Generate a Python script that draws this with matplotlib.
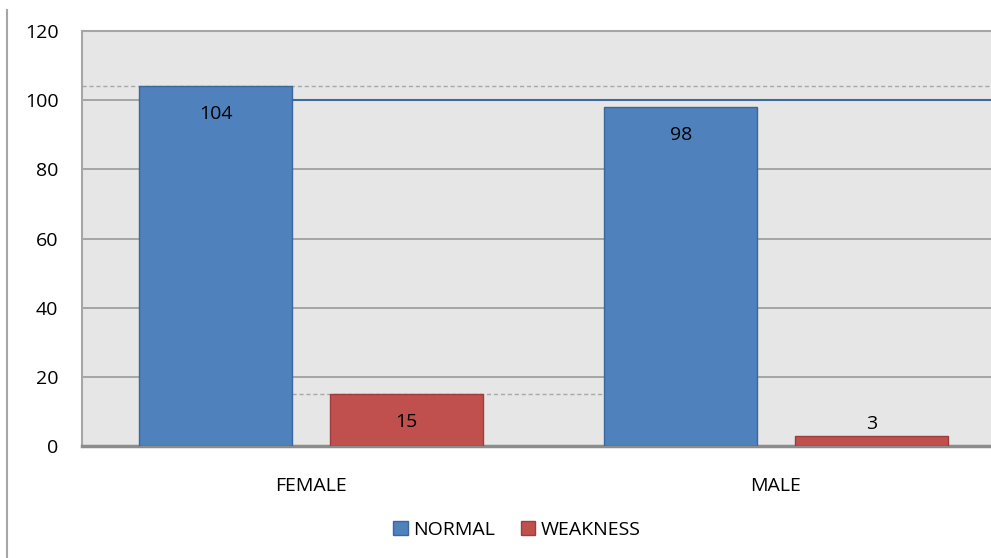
import matplotlib
matplotlib.use("Agg")
import matplotlib.pyplot as plt
from matplotlib.lines import Line2D
from matplotlib.patches import Patch
import numpy as np

# dados do gráfico
categorias = ["FEMALE", "MALE"]
normal = [104, 98]
weakness = [15, 3]
y_ticks = [0, 20, 40, 60, 80, 100, 120]

AZUL = "#4f81bd"
VERMELHO = "#c0504d"

plt.rcParams["font.family"] = ["Open Sans", "DejaVu Sans"]

fig = plt.figure(figsize=(9.91, 5.58), dpi=100)
W, H = 991, 558
# área do gráfico (continua para lá da margem direita, como no original)
ax = fig.add_axes([82 / W, (H - 446) / H, (1005 - 82) / W, (446 - 31) / H])
ax.set_facecolor("#e6e6e6")

x = np.arange(len(categorias))
largura = 0.33
desloc = 0.205

# grelha
for v in y_ticks[1:-1]:
    ax.axhline(v, color="#a0a0a0", linewidth=1.3, zorder=1)

b1 = ax.bar(x - desloc, normal, largura, color=AZUL, edgecolor="#3a679c", linewidth=1, zorder=3)
b2 = ax.bar(x + desloc, weakness, largura, color=VERMELHO, edgecolor="#9c3f3c", linewidth=1, zorder=3)

# linhas tracejadas e linha azul (como aparecem na imagem)
dir_fem = x[0] - desloc + largura / 2
esq_masc = x[1] - desloc - largura / 2
ax.axhline(normal[0], color="#a8a8a8", linestyle=(0, (3, 2)), linewidth=1, zorder=2)
ax.hlines(weakness[0], dir_fem, esq_masc, color="#a8a8a8", linestyles=(0, (3, 2)), linewidth=1, zorder=2)
ax.hlines(100, dir_fem, 1.6, color="#3f6a9e", linewidth=1.5, zorder=2)

# rótulos de valores
for xi, v in zip(x - desloc, normal):
    ax.text(xi, v - 8, str(v), ha="center", va="center", fontsize=14, color="black", zorder=4)
for xi, v in zip(x + desloc, weakness):
    pos = v - 8 if v > 10 else v + 3.5
    ax.text(xi, pos, str(v), ha="center", va="center", fontsize=14, color="black", zorder=4)

ax.set_xlim(-0.4925, 1.4925)
ax.set_ylim(0, 120)
ax.set_yticks(y_ticks)
ax.set_xticks(x)
ax.set_xticklabels(categorias)
ax.tick_params(axis="both", length=0, labelsize=14)
ax.tick_params(axis="y", pad=17)
ax.tick_params(axis="x", pad=22)

for lado in ["top", "left"]:
    ax.spines[lado].set_color("#a6a6a6")
    ax.spines[lado].set_linewidth(1.5)
ax.spines["bottom"].set_color("#8c8c8c")
ax.spines["bottom"].set_linewidth(2.5)
ax.spines["right"].set_visible(False)

# legenda
handles = [Patch(facecolor=AZUL, edgecolor="#3a679c", label="NORMAL"),
           Patch(facecolor=VERMELHO, edgecolor="#9c3f3c", label="WEAKNESS")]
fig.legend(handles=handles, loc="center", bbox_to_anchor=(517 / W, (H - 530) / H), ncol=2,
           frameon=False, fontsize=14, handlelength=0.75, handleheight=0.75,
           handletextpad=0.3, columnspacing=1.3)

# linha vertical à esquerda da imagem
fig.add_artist(Line2D([7 / W, 7 / W], [0, (H - 10) / H], color="#a6a6a6", linewidth=1.5))

fig.savefig("out.png", dpi=100)
